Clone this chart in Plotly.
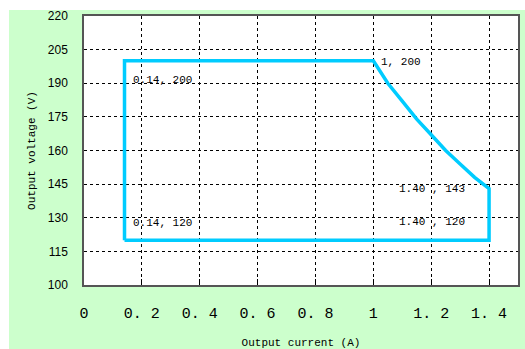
import plotly.graph_objects as go

# boundary of the operating area (current A, voltage V)
current = [0.14, 0.14, 1.00, 1.05, 1.10, 1.15, 1.20, 1.25, 1.30, 1.35, 1.40, 1.40, 0.14]
voltage = [120, 200, 200, 190, 182, 174, 167, 160, 154, 148, 143, 120, 120]

label_x = [0.14, 0.14, 1.00, 1.40, 1.40]
label_y = [200, 120, 200, 143, 120]
label_text = ["0.14, 200", "0.14, 120", "1, 200", "1.40 , 143", "1.40 , 120"]
label_anchor = ["left", "left", "left", "right", "right"]
label_dx = [6, 6, 6, -22, -22]
label_dy = [-19, 17, -1, 0, 18]

x_ticks = [0, 0.2, 0.4, 0.6, 0.8, 1, 1.2, 1.4]
x_tick_text = ["0", "0. 2", "0. 4", "0. 6", "0. 8", "1", "1. 2", "1. 4"]
y_ticks = [100, 115, 130, 145, 160, 175, 190, 205, 220]

fig = go.Figure()
fig.add_trace(go.Scatter(x=current, y=voltage, mode="lines",
                         line=dict(color="#00CCFF", width=3.5),
                         hoverinfo="skip", showlegend=False))

for x, y, t, a, dx, dy in zip(label_x, label_y, label_text, label_anchor, label_dx, label_dy):
    fig.add_annotation(x=x, y=y, text=t, showarrow=False, xanchor=a,
                       yanchor="middle", xshift=dx, yshift=dy,
                       font=dict(family="Liberation Mono", size=11, color="black"))

grid = dict(showgrid=True, gridcolor="black", gridwidth=1, griddash="3px,3px",
            showline=True, linecolor="#555555", linewidth=1.5, mirror=True,
            zeroline=False, automargin=False)

fig.update_xaxes(range=[0, 1.5], tickvals=x_ticks, ticktext=x_tick_text,
                 ticks="inside", ticklen=6, tickcolor="black",
                 ticklabelstandoff=13,
                 tickfont=dict(family="Liberation Mono", size=15, color="black"),
                 title=dict(text="Output current (A)", standoff=17,
                            font=dict(family="Liberation Mono", size=11, color="black")),
                 **grid)
fig.update_yaxes(range=[100, 220], tickvals=y_ticks, ticks="",
                 ticklabelstandoff=12,
                 tickfont=dict(family="Liberation Sans", size=12, color="black"),
                 title=dict(text="Output voltage (V)", standoff=10,
                            font=dict(family="Liberation Mono", size=11, color="black")),
                 **grid)

# white strips at top and left edge of the image
fig.add_shape(type="rect", xref="paper", yref="paper", x0=-0.2, x1=1.1,
              y0=(285 - 10) / 269, y1=1.1, fillcolor="white", line_width=0)
fig.add_shape(type="rect", xref="paper", yref="paper", x0=-0.2, x1=(9 - 84) / 434,
              y0=-0.3, y1=1.1, fillcolor="white", line_width=0)

fig.update_layout(width=525, height=349,
                  margin=dict(l=84, r=7, t=16, b=64),
                  paper_bgcolor="#CCFFCC", plot_bgcolor="white",
                  showlegend=False)

fig.write_html("out.html")
